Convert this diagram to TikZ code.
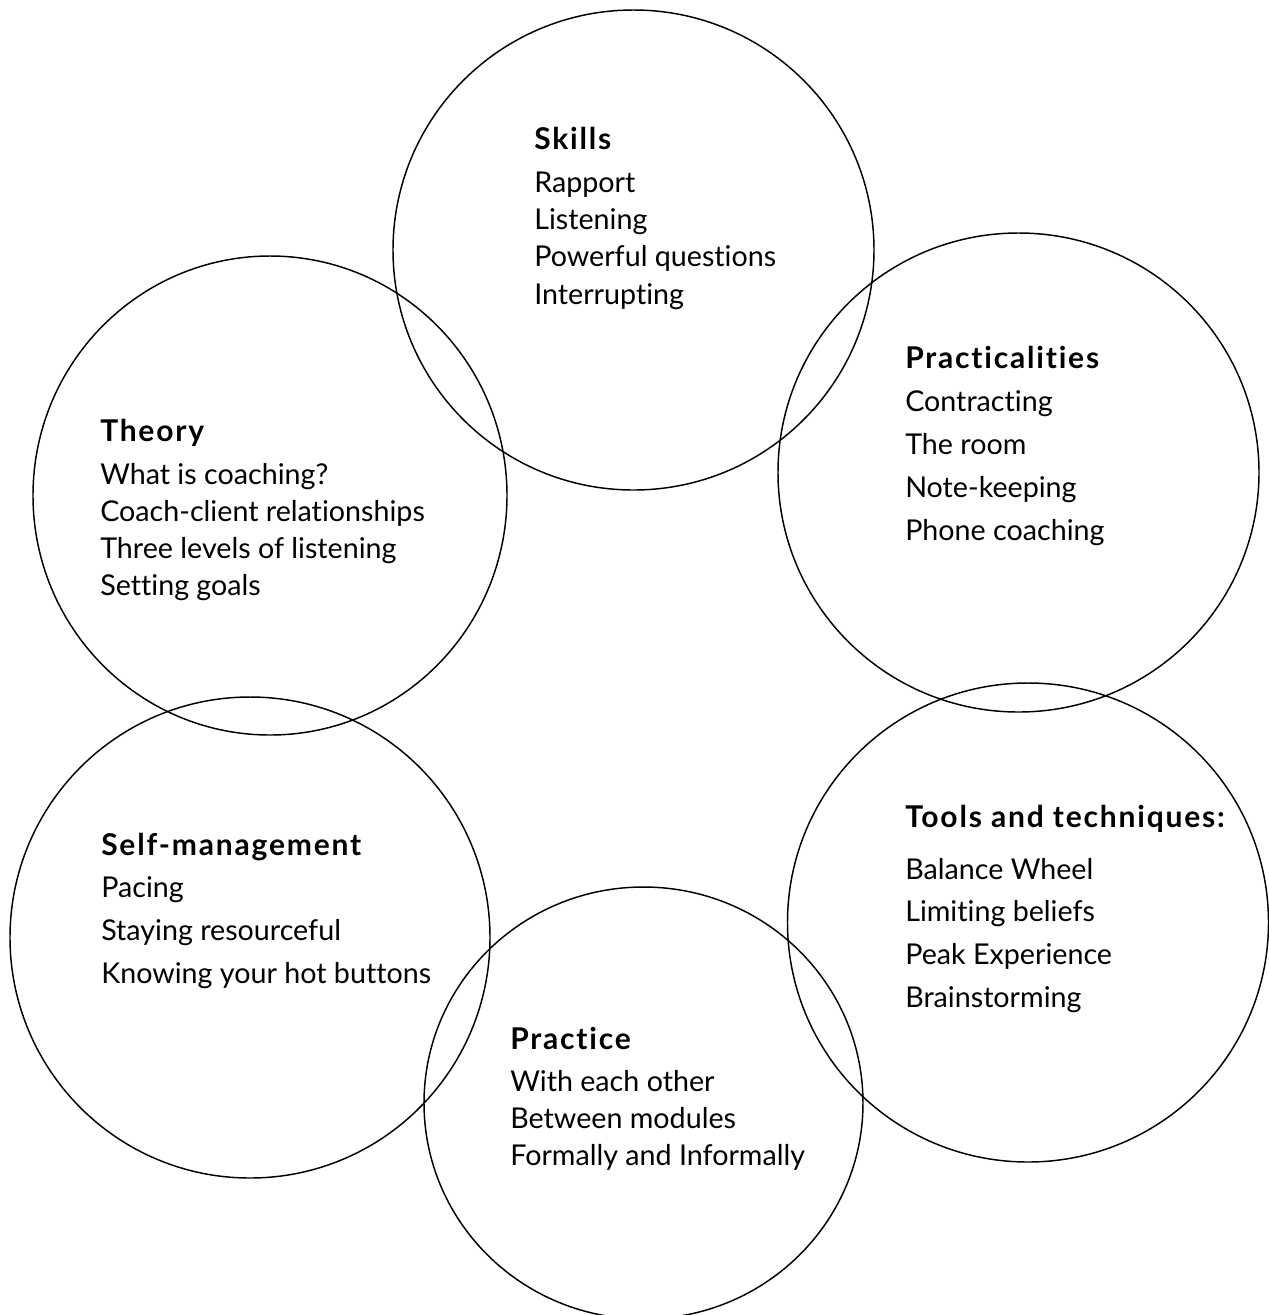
\documentclass[tikz,border=0pt]{standalone}
\usepackage{fontspec}
\setmainfont{Lato}[Ligatures=CommonOff]
\newfontfamily\hdfont{Lato}[LetterSpace=6, Ligatures=CommonOff]
\newcommand{\hd}[1]{{\hdfont\bfseries\fontsize{22.5}{24}\selectfont #1}}
\usetikzlibrary{shapes.geometric}

\begin{document}
\begin{tikzpicture}[x=0.75pt, y=-0.75pt,
  ring/.style 2 args={ellipse, draw, line width=1.1pt, inner sep=0pt, outer sep=0pt,
    minimum width=#1*0.75pt, minimum height=#2*0.75pt},
  lbl/.style={align=left, inner sep=0pt, anchor=base west, font=\fontsize{21.5}{#1}\selectfont}
]
\useasboundingbox (0,0) rectangle (1269,1315);
\clip (0,0) rectangle (1269,1315);
\node[ring={481}{480}] (skills) at (633.5,250) {};
\node[ring={481}{479}] (pract) at (1018.5,472.5) {};
\node[ring={474}{479}] (theory) at (270,495.5) {};
\node[ring={480}{481}] (selfm) at (250,937.5) {};
\node[ring={481}{479}] (tools) at (1028,922.5) {};
\node[ring={439}{432}] (practice) at (643.5,1103) {};
% text blocks, placed by the baseline of their last line
\node[lbl=28pt] (skills-t) at (534,304) {\hd{Skills}\\[4.25pt] Rapport\\ Listening\\ Powerful questions\\ Interrupting};
\node[lbl=32.25pt] (pract-t) at (905,540) {\hd{Practicalities}\\ Contracting\\ The room\\ Note-keeping\\ Phone coaching};
\node[lbl=27.75pt] (theory-t) at (100,595) {\hd{Theory}\\[4.5pt] What is coaching?\\ Coach-client relationships\\ Three levels of listening\\ Setting goals};
\node[lbl=32pt] (selfm-t) at (101,983) {\hd{Self-management}\\ Pacing\\ Staying resourceful\\ Knowing your hot buttons};
\node[lbl=32pt] (tools-t) at (905,1007) {\hd{Tools and techniques:}\\[7pt] Balance Wheel\\ Limiting beliefs\\ Peak Experience\\ Brainstorming};
\node[lbl=27.75pt] (practice-t) at (510,1165) {\hd{Practice}\\[3.75pt] With each other\\ Between modules\\ Formally and Informally};
\end{tikzpicture}
\end{document}
